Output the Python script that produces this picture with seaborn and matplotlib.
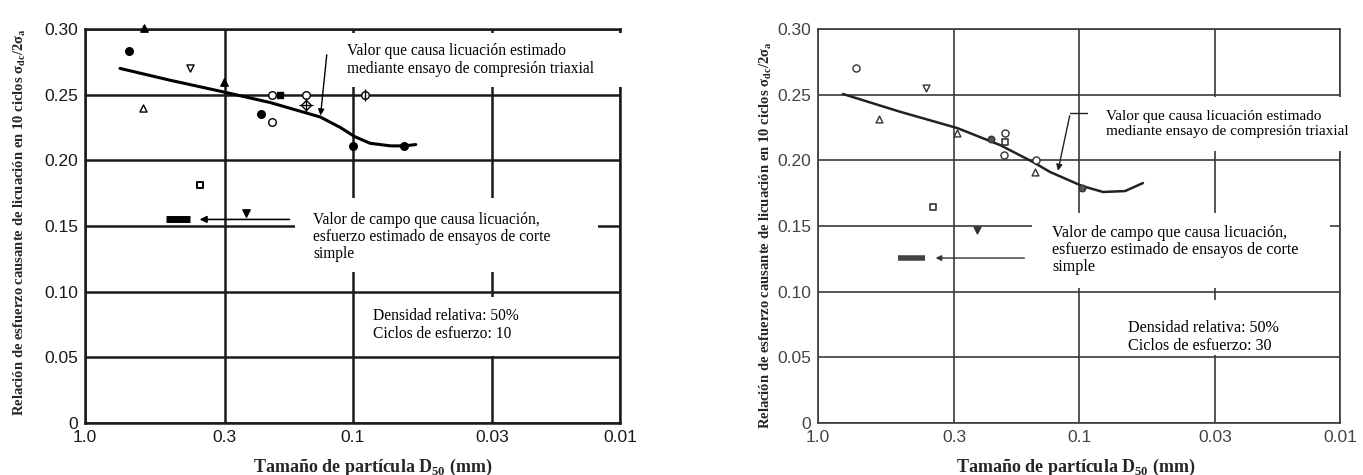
import matplotlib
matplotlib.use("Agg")
import matplotlib.pyplot as plt
from matplotlib.patches import Rectangle
import seaborn as sns

# ---------------- data ----------------
x_ticks = [1.0, 0.3, 0.1, 0.03, 0.01]
x_tick_labels = ["1.0", "0.3", "0.1", "0.03", "0.01"]
y_ticks = [0, 0.05, 0.10, 0.15, 0.20, 0.25, 0.30]
y_tick_labels = ["0", "0.05", "0.10", "0.15", "0.20", "0.25", "0.30"]

# left panel (10 cycles)
curve10_x = [0.740, 0.481, 0.302, 0.203, 0.132, 0.111, 0.098, 0.086, 0.072, 0.064, 0.058]
curve10_y = [0.270, 0.261, 0.252, 0.244, 0.233, 0.225, 0.218, 0.213, 0.211, 0.211, 0.212]
l_fcirc_x = [0.685, 0.220, 0.0996, 0.0642]
l_fcirc_y = [0.283, 0.235, 0.211, 0.211]
l_ftri_x = [0.602, 0.302]
l_ftri_y = [0.301, 0.260]
l_fdown_x = [0.250]
l_fdown_y = [0.160]
l_otri_x = [0.607]
l_otri_y = [0.240]
l_odown_x = [0.405]
l_odown_y = [0.270]
l_osq_x = [0.372]
l_osq_y = [0.181]
l_ocirc_x = [0.200, 0.200, 0.149, 0.0898]
l_ocirc_y = [0.229, 0.250, 0.250, 0.250]
l_fsq_x = [0.187]
l_fsq_y = [0.250]
l_odiam_x = [0.149]
l_odiam_y = [0.242]
l_field_bar_x = [0.498, 0.405]
l_field_y = 0.155

# right panel (30 cycles)
curve30_x = [0.802, 0.485, 0.293, 0.201, 0.150, 0.129, 0.0974, 0.0809, 0.0666, 0.0569]
curve30_y = [0.2505, 0.237, 0.2246, 0.2117, 0.1987, 0.1911, 0.1805, 0.1759, 0.1766, 0.1827]
r_ocirc_x = [0.715, 0.192, 0.194, 0.146]
r_ocirc_y = [0.270, 0.221, 0.204, 0.200]
r_odown_x = [0.386]
r_odown_y = [0.255]
r_otri_x = [0.584, 0.293, 0.147]
r_otri_y = [0.2315, 0.221, 0.191]
r_osq_x = [0.3625, 0.192]
r_osq_y = [0.1645, 0.214]
r_fdown_x = [0.246]
r_fdown_y = [0.147]
r_fcirc_x = [0.2174, 0.0974]
r_fcirc_y = [0.216, 0.179]
r_field_bar_x = [0.494, 0.389]
r_field_y = 0.1256

# ---------------- style ----------------
sns.set_theme(style="white")
plt.rcParams["font.family"] = ["Liberation Serif", "DejaVu Serif"]
plt.rcParams["mathtext.fontset"] = "custom"
plt.rcParams["mathtext.rm"] = "Liberation Serif"
plt.rcParams["mathtext.bf"] = "Liberation Serif:bold"

W, H = 1363, 475
fig = plt.figure(figsize=(W / 100, H / 100), dpi=100)
fig.patch.set_facecolor("white")


def fx(px):
    return px / W


def fy(py):
    return 1 - py / H


ax1 = fig.add_axes([fx(85), fy(423), 535 / W, 394 / H])
ax2 = fig.add_axes([fx(818), fy(423), 522 / W, 394 / H])

ylabel = "Relación de esfuerzo causante de licuación en 10 ciclos σ$_{\\mathbf{dc}}$/2σ$_{\\mathbf{a}}$"
xlabel = "Tamaño de partícula D$_{\\mathbf{50}}$ (mm)"


def setup(ax, ink, lw, tick_col):
    ax.set_xscale("log")
    ax.set_xlim(1.0, 0.01)
    ax.set_ylim(0, 0.30)
    ax.set_xticks(x_ticks)
    ax.set_xticklabels(x_tick_labels)
    ax.set_yticks(y_ticks)
    ax.set_yticklabels(y_tick_labels)
    ax.minorticks_off()
    ax.grid(True, color=ink, lw=lw)
    for s in ax.spines.values():
        s.set_color(ink)
        s.set_linewidth(lw)
        s.set_visible(True)
    ax.tick_params(length=0, pad=5, labelsize=12.5, labelcolor=tick_col)
    for lab in ax.get_xticklabels() + ax.get_yticklabels():
        lab.set_family(["Liberation Sans", "DejaVu Sans"])
    ax.set_facecolor("white")
    ax.set_xlabel(xlabel, fontsize=13, fontweight="bold")
    ax.set_ylabel(ylabel, fontsize=10.5, fontweight="bold")
    ax.xaxis.label.set_va("center")
    ax.yaxis.label.set_va("center")


setup(ax1, "#1a1a1a", 1.8, "#1a1a1a")
setup(ax2, "#3a3a3a", 1.2, "#444444")
ax1.xaxis.set_label_coords((373 - 85) / 535, (423 - 467) / 394)
ax1.yaxis.set_label_coords((20 - 85) / 535, (423 - 222) / 394)
ax2.xaxis.set_label_coords((1076 - 818) / 522, (423 - 467) / 394)
ax2.yaxis.set_label_coords((766 - 818) / 522, (423 - 235) / 394)


def pts(ax, x, y, marker, face, edge, size=28, lw=1.0):
    sns.scatterplot(x=x, y=y, marker=marker, s=size, facecolor=face,
                    edgecolor=edge, linewidth=lw, ax=ax, zorder=4, clip_on=False)


# ---------- left panel ----------
sns.lineplot(x=curve10_x, y=curve10_y, sort=False, color="black", lw=2.2, ax=ax1, zorder=3)
pts(ax1, l_fcirc_x, l_fcirc_y, "o", "black", "black", 30)
pts(ax1, l_ftri_x, l_ftri_y, "^", "black", "black", 28)
pts(ax1, l_fdown_x, l_fdown_y, "v", "black", "black", 28)
pts(ax1, l_otri_x, l_otri_y, "^", "white", "black", 26)
pts(ax1, l_odown_x, l_odown_y, "v", "white", "black", 26)
pts(ax1, l_osq_x, l_osq_y, "s", "white", "black", 24, 1.4)
pts(ax1, l_ocirc_x, l_ocirc_y, "o", "white", "black", 30, 1.0)
pts(ax1, l_fsq_x, l_fsq_y, "s", "black", "black", 24)
pts(ax1, l_odiam_x, l_odiam_y, "D", "white", "black", 26)
pts(ax1, l_odiam_x, l_odiam_y, "+", "black", "black", 90, 0.9)
pts(ax1, l_ocirc_x[3:], l_ocirc_y[3:], "|", "black", "black", 70, 1.0)
ax1.plot(l_field_bar_x, [l_field_y] * 2, color="black", lw=5, solid_capstyle="butt", zorder=4)
ax1.annotate("", xy=(0.382, l_field_y), xytext=(0.168, l_field_y),
             arrowprops=dict(arrowstyle="-|>", color="black", lw=1.2, mutation_scale=10))
ax1.annotate("", xy=(0.132, 0.232), xytext=(0.1245, 0.2825),
             arrowprops=dict(arrowstyle="-|>", color="black", lw=1.0, mutation_scale=9),
             annotation_clip=False)

# ---------- right panel ----------
sns.lineplot(x=curve30_x, y=curve30_y, sort=False, color="#222222", lw=1.8, ax=ax2, zorder=3)
pts(ax2, r_ocirc_x, r_ocirc_y, "o", "white", "#333333", 26, 1.0)
pts(ax2, r_odown_x, r_odown_y, "v", "white", "#333333", 24, 1.0)
pts(ax2, r_otri_x, r_otri_y, "^", "white", "#333333", 24, 1.0)
pts(ax2, r_osq_x, r_osq_y, "s", "white", "#333333", 20, 1.2)
pts(ax2, r_fdown_x, r_fdown_y, "v", "#333333", "#333333", 24)
pts(ax2, r_fcirc_x, r_fcirc_y, "o", "#555555", "#333333", 22)
ax2.plot(r_field_bar_x, [r_field_y] * 2, color="#444444", lw=4, solid_capstyle="butt", zorder=4)
ax2.annotate("", xy=(0.363, r_field_y), xytext=(0.158, r_field_y),
             arrowprops=dict(arrowstyle="-|>", color="#333333", lw=1.0, mutation_scale=8))
ax2.plot([0.0924, 0.108], [0.236, 0.236], color="#222222", lw=1.0, clip_on=False)
ax2.annotate("", xy=(0.121, 0.190), xytext=(0.108, 0.236),
             arrowprops=dict(arrowstyle="-|>", color="#222222", lw=1.0, mutation_scale=9))

# ---------- white text boxes over the grid ----------
boxes = [
    (333, 33, 625, 87), (295, 198, 598, 272), (355, 297, 560, 356),
    (1088, 97, 1363, 151), (1032, 213, 1330, 288), (1108, 300, 1303, 355),
]
for x0, y0, x1, y1 in boxes:
    fig.add_artist(Rectangle((fx(x0), fy(y1)), fx(x1) - fx(x0), fy(y0) - fy(y1),
                             transform=fig.transFigure, facecolor="white",
                             edgecolor="none", zorder=2.5))

notes = [
    (347, 60, "Valor que causa licuación estimado\nmediante ensayo de compresión triaxial", 11.2),
    (313, 237, "Valor de campo que causa licuación,\nesfuerzo estimado de ensayos de corte\nsimple", 11.2),
    (373, 325, "Densidad relativa: 50%\nCiclos de esfuerzo: 10", 11.2),
    (1106, 124, "Valor que causa licuación estimado\nmediante ensayo de compresión triaxial", 11.0),
    (1052, 250, "Valor de campo que causa licuación,\nesfuerzo estimado de ensayos de corte\nsimple", 11.6),
    (1128, 337, "Densidad relativa: 50%\nCiclos de esfuerzo: 30", 11.6),
]
for px, py, txt, fs in notes:
    fig.text(fx(px), fy(py), txt, ha="left", va="center", fontsize=fs,
             linespacing=1.12, color="black", zorder=3)

fig.savefig("out.png", dpi=100, facecolor="white")
